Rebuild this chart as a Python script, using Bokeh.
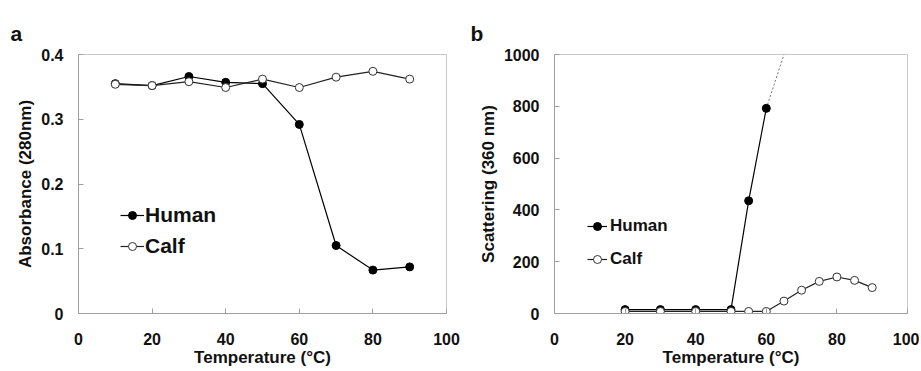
from bokeh.plotting import figure
from bokeh.layouts import row
from bokeh.models import (FixedTicker, CustomJSTickFormatter, Legend, LegendItem,
                          Range1d)
from bokeh.embed import file_html
from bokeh.resources import INLINE

# ---- data: panel a (absorbance 280 nm) ----
temp_a = [10, 20, 30, 40, 50, 60, 70, 80, 90]
human_a = [0.355, 0.352, 0.366, 0.357, 0.355, 0.292, 0.105, 0.067, 0.072]
calf_a = [0.354, 0.352, 0.358, 0.349, 0.362, 0.349, 0.365, 0.374, 0.362]

# ---- data: panel b (scattering 360 nm) ----
temp_b_human = [20, 30, 40, 50, 55, 60]
human_b = [15, 15, 15, 15, 435, 792]
extrap_x = [60, 65]
extrap_y = [792, 1000]
temp_b_calf = [20, 30, 40, 50, 55, 60, 65, 70, 75, 80, 85, 90]
calf_b = [8, 8, 8, 8, 8, 8, 48, 90, 124, 141, 128, 100]

x_ticks = [0, 20, 40, 60, 80, 100]
y_ticks_a = [0, 0.1, 0.2, 0.3, 0.4]
y_ticks_b = [0, 200, 400, 600, 800, 1000]

FONT = "Liberation Sans"
TXT = "#111111"
AXC = "#a0a0a0"


def style(p, xt, yt, yfmt, panel, title_offset):
    p.xgrid.visible = False
    p.ygrid.visible = False
    p.outline_line_color = "#c8c8c8"
    p.background_fill_color = "white"
    p.border_fill_color = "white"
    for ax in (p.xaxis[0], p.yaxis[0]):
        ax.axis_line_color = AXC
        ax.major_tick_line_color = AXC
        ax.major_tick_in = 5
        ax.major_tick_out = 0
        ax.minor_tick_line_color = None
        ax.major_label_text_font = FONT
        ax.major_label_text_font_style = "bold"
        ax.major_label_text_font_size = "16px"
        ax.major_label_text_color = TXT
        ax.axis_label_text_font = FONT
        ax.axis_label_text_font_style = "bold"
        ax.axis_label_text_font_size = "17px"
        ax.axis_label_text_color = TXT
    p.xaxis[0].ticker = FixedTicker(ticks=xt)
    p.yaxis[0].ticker = FixedTicker(ticks=yt)
    p.xaxis[0].major_label_standoff = 19
    p.xaxis[0].axis_label_standoff = 0
    p.yaxis[0].major_label_standoff = 15
    p.yaxis[0].axis_label_standoff = 3
    p.yaxis[0].formatter = CustomJSTickFormatter(code=yfmt)
    p.title.text = panel
    p.title.align = "left"
    p.title.offset = title_offset
    p.title.standoff = 20
    p.title.text_line_height = 0.6
    p.title.text_font = FONT
    p.title.text_font_style = "bold"
    p.title.text_font_size = "21px"
    p.title.text_color = TXT


# ---------------- panel a ----------------
pa = figure(width=460, height=371, output_backend="svg", toolbar_location=None,
            x_range=Range1d(0, 100), y_range=Range1d(0, 0.4),
            min_border_left=78, min_border_right=14, min_border_top=54,
            min_border_bottom=56, x_axis_label="Temperature (°C)",
            y_axis_label="Absorbance (280nm)")
style(pa, x_ticks, y_ticks_a,
      "return tick == 0 ? '0' : tick.toFixed(1);", "a", -68)

ha_l = pa.line(temp_a, human_a, line_color="black", line_width=1.2)
ha_s = pa.scatter(temp_a, human_a, size=8, fill_color="black", line_color="black")
ca_l = pa.line(temp_a, calf_a, line_color="#222222", line_width=1.2)
ca_s = pa.scatter(temp_a, calf_a, size=8, fill_color="white", line_color="#333333",
                  line_width=1)

leg_a = Legend(items=[LegendItem(label="Human", renderers=[ha_l, ha_s]),
                      LegendItem(label="Calf", renderers=[ca_l, ca_s])],
               location=(42, 55), padding=0, margin=0, spacing=7,
               glyph_width=24, glyph_height=20, label_height=20,
               label_standoff=1, border_line_color=None,
               background_fill_alpha=0,
               label_text_font=FONT, label_text_font_style="bold",
               label_text_font_size="21px", label_text_color=TXT)
pa.add_layout(leg_a)

# ---------------- panel b ----------------
pb = figure(width=459, height=371, output_backend="svg", toolbar_location=None,
            x_range=Range1d(0, 100), y_range=Range1d(0, 1000),
            min_border_left=94, min_border_right=12, min_border_top=53,
            min_border_bottom=58, x_axis_label="Temperature (°C)",
            y_axis_label="Scattering (360 nm)")
style(pb, x_ticks, y_ticks_b, "return tick.toFixed(0);", "b", -84)

pb.line(extrap_x, extrap_y, line_color="#777777", line_width=1, line_dash="2 2")
hb_l = pb.line(temp_b_human, human_b, line_color="black", line_width=1.2)
hb_s = pb.scatter(temp_b_human, human_b, size=8, fill_color="black", line_color="black")
cb_l = pb.line(temp_b_calf, calf_b, line_color="#222222", line_width=1.2)
cb_s = pb.scatter(temp_b_calf, calf_b, size=8, fill_color="white", line_color="#333333",
                  line_width=1)

leg_b = Legend(items=[LegendItem(label="Human", renderers=[hb_l, hb_s]),
                      LegendItem(label="Calf", renderers=[cb_l, cb_s])],
               location=(33, 44), padding=0, margin=0, spacing=13,
               glyph_width=20, glyph_height=20, label_height=20,
               label_standoff=3, border_line_color=None,
               background_fill_alpha=0,
               label_text_font=FONT, label_text_font_style="bold",
               label_text_font_size="17px", label_text_color=TXT)
pb.add_layout(leg_b)

layout = row(pa, pb)
open("out.html", "w").write(file_html(layout, INLINE))
